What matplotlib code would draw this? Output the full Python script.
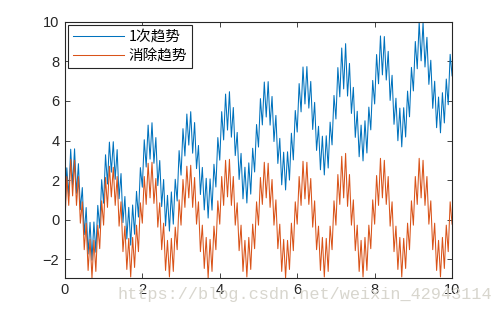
import numpy as np
import matplotlib
matplotlib.use("Agg")
import matplotlib.pyplot as plt

# ---- data ----
x_start, x_end, n_samples = 0.0, 10.0, 201

detrended = [
    -0.23, 2.18, 0.72, 3.05, 1.20, 3.00, 0.72, 2.18, -0.18, 0.90,
    -1.52, -0.18, -2.57, -1.00, -2.95, -1.05, -2.62, -0.28, -1.47, 0.95,
    -0.28, 2.13, 0.62, 2.70, 1.15, 2.65, 0.72, 2.18, -0.33, 0.90,
    -1.62, -0.33, -2.52, -0.95, -2.90, -0.90, -2.42, -0.28, -1.62, 0.85,
    -0.18, 2.18, 0.77, 2.85, 1.10, 2.90, 0.82, 2.08, -0.38, 0.85,
    -1.52, -0.18, -2.57, -1.05, -2.90, -0.95, -2.62, -0.38, -1.52, 1.00,
    -0.28, 2.03, 0.62, 2.70, 1.10, 2.75, 0.62, 2.13, -0.23, 0.90,
    -1.62, -0.28, -2.47, -0.90, -2.95, -1.00, -2.62, -0.33, -1.52, 0.95,
    -0.23, 2.18, 0.72, 3.00, 1.15, 3.05, 0.72, 2.18, -0.28, 0.85,
    -1.57, -0.28, -2.62, -1.05, -2.90, -0.90, -2.52, -0.23, -1.47, 0.90,
    -0.28, 2.13, 0.77, 2.90, 1.10, 2.85, 0.62, 2.03, -0.28, 1.00,
    -1.47, -0.23, -2.62, -1.00, -2.95, -1.05, -2.52, -0.18, -1.57, 0.90,
    -0.23, 2.18, 0.72, 2.95, 1.05, 2.90, 0.77, 2.08, -0.38, 0.95,
    -1.52, -0.33, -2.57, -0.90, -2.90, -0.95, -2.62, -0.33, -1.52, 0.95,
    -0.28, 2.28, 0.77, 3.20, 1.10, 3.35, 0.67, 2.28, -0.28, 1.00,
    -1.57, -0.28, -2.62, -1.05, -2.90, -0.90, -2.57, -0.28, -1.47, 1.00,
    -0.23, 2.23, 0.72, 3.10, 1.10, 3.00, 0.77, 2.18, -0.33, 0.90,
    -1.62, -0.33, -2.52, -0.90, -2.90, -0.95, -2.47, -0.18, -1.52, 0.95,
    -0.28, 2.18, 0.77, 3.10, 1.10, 3.00, 0.72, 2.18, -0.23, 0.95,
    -1.52, -0.18, -2.57, -1.05, -2.90, -0.90, -2.47, -0.28, -1.62, 0.90,
    -0.23,
]

with_trend = [
    0.17, 2.62, 1.19, 3.56, 1.74, 3.58, 1.33, 2.83, 0.50, 1.62,
    -0.76, 0.61, -1.74, -0.14, -2.05, -0.12, -1.65, 0.72, -0.43, 2.02,
    0.83, 3.28, 1.80, 3.92, 2.40, 3.94, 2.04, 3.54, 1.06, 2.33,
    -0.15, 1.17, -0.98, 0.62, -1.29, 0.74, -0.74, 1.43, 0.13, 2.63,
    1.64, 4.04, 2.66, 4.78, 3.06, 4.90, 2.85, 4.15, 1.72, 2.99,
    0.66, 2.03, -0.32, 1.23, -0.58, 1.40, -0.23, 2.04, 0.94, 3.49,
    2.25, 4.60, 3.22, 5.34, 3.77, 5.46, 3.36, 4.91, 2.58, 3.75,
    1.27, 2.64, 0.49, 2.09, 0.08, 2.06, 0.48, 2.80, 1.65, 4.15,
    3.01, 5.46, 4.03, 6.35, 4.53, 6.47, 4.17, 5.67, 3.24, 4.41,
    2.03, 3.35, 1.05, 2.65, 0.84, 2.87, 1.29, 3.61, 2.41, 4.81,
    3.67, 6.12, 4.79, 6.96, 5.19, 6.98, 4.78, 6.23, 3.95, 5.27,
    2.84, 4.11, 1.76, 3.41, 1.50, 3.43, 2.00, 4.37, 3.02, 5.52,
    4.43, 6.88, 5.45, 7.72, 5.85, 7.74, 5.64, 6.99, 4.56, 5.93,
    3.50, 4.72, 2.52, 4.22, 2.26, 4.24, 2.61, 4.93, 3.78, 6.28,
    5.09, 7.69, 6.21, 8.68, 6.61, 8.90, 6.25, 7.90, 5.37, 6.69,
    4.16, 5.48, 3.18, 4.78, 2.97, 5.00, 3.37, 5.69, 4.54, 7.04,
    5.85, 8.35, 6.87, 9.29, 7.32, 9.26, 7.06, 8.51, 6.03, 7.30,
    4.82, 6.14, 3.99, 5.64, 3.68, 5.66, 4.18, 6.50, 5.20, 7.70,
    6.51, 9.01, 7.63, 10.00, 8.03, 9.97, 7.72, 9.22, 6.84, 8.06,
    5.63, 7.00, 4.65, 6.20, 4.39, 6.42, 4.89, 7.11, 5.81, 8.36,
    7.27,
]

labels = ["1次趋势", "消除趋势"]
x_ticks = [0, 2, 4, 6, 8, 10]
y_ticks = [-2, 0, 2, 4, 6, 8, 10]
watermark = "https://blog.csdn.net/weixin_42943114"

# ---- plot ----
plt.rcParams['font.family'] = ['Liberation Sans', 'Noto Sans CJK SC', 'DejaVu Sans']
t = np.linspace(x_start, x_end, n_samples)

fig = plt.figure(figsize=(4.99, 3.13), dpi=100)
ax = fig.add_axes([0.130, 0.112, 0.776, 0.818])

ax.plot(t, with_trend, color='#0072BD', lw=0.75, label=labels[0])
ax.plot(t, detrended, color='#D95319', lw=0.75, label=labels[1])

ax.set_xlim(0, 10)
ax.set_ylim(-2.95, 10)
ax.set_xticks(x_ticks)
ax.set_yticks(y_ticks)

edge = '#262626'
for s in ax.spines.values():
    s.set_color(edge)
    s.set_linewidth(0.8)
ax.tick_params(direction='in', top=True, right=True, length=3.5, width=0.6,
               colors=edge, labelsize=10.5, pad=4)

leg = ax.legend(loc='upper left', fancybox=False, framealpha=1, edgecolor=edge,
                handlelength=3.5, borderaxespad=0.2, borderpad=0.35,
                labelspacing=0.35, handletextpad=0.3,
                prop={'family': ['Noto Sans CJK SC', 'DejaVu Sans'], 'size': 10.5})
leg.get_frame().set_linewidth(0.8)

fig.text(0.235, 0.058, watermark, fontsize=12.2, color='#d8d6ce',
         family='Liberation Mono', va='center', ha='left', zorder=0)

fig.savefig('out.png', dpi=100, facecolor='white')
